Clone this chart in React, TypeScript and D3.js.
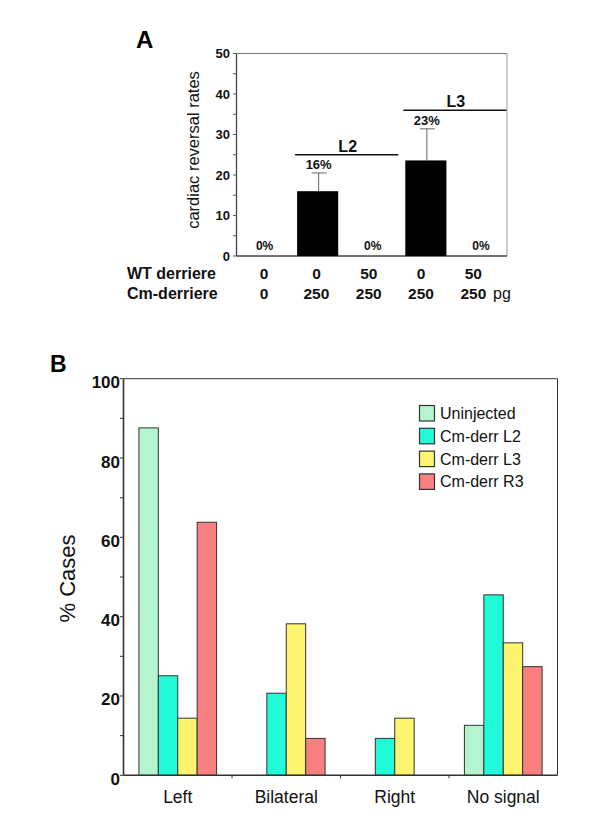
import React from "react";
import * as d3 from "d3";

// Panel A data
const aColumns = ["c1", "c2", "c3", "c4", "c5"];
const aValues = [0, 16, 0, 23.6, 0];
const aErrors = [0, 20.5, 0, 31.4, 0];
const aLabels = ["0%", "16%", "0%", "23%", "0%"];
const aWT = ["0", "0", "50", "0", "50"];
const aCm = ["0", "250", "250", "250", "250"];
const aTicks = [0, 10, 20, 30, 40, 50];
const aGroups = [
  { name: "L2", from: 1, to: 2, level: 25 },
  { name: "L3", from: 3, to: 4, level: 36 },
];

// Panel B data
const bCategories = ["Left", "Bilateral", "Right", "No signal"];
const bSeries = ["Uninjected", "Cm-derr L2", "Cm-derr L3", "Cm-derr R3"];
const bColors = ["#b4f5d0", "#22fbd9", "#fdf46f", "#f88080"];
const uninjected = [87.6, 0, 0, 12.6];
const cmL2 = [25.1, 20.7, 9.3, 45.5];
const cmL3 = [14.4, 38.2, 14.4, 33.4];
const cmR3 = [63.8, 9.3, 0, 27.4];
const bValues = [uninjected, cmL2, cmL3, cmR3];
const bTicks = [0, 20, 40, 60, 80, 100];

const FONT = "'Liberation Sans', Arial, Helvetica, sans-serif";

export default function App() {
  // ---- Panel A scales
  const aX = d3.scaleBand<string>().domain(aColumns).range([236.5, 507]).paddingInner(0.24).paddingOuter(0.12);
  const aY = d3.scaleLinear().domain([0, 50]).range([256, 53.5]);
  const aTable = d3.scaleBand<string>().domain(aColumns).range([238, 499.5]);
  const aMinor = d3.range(0, 51, 5);
  const aCenter = (i: number) => (aX(aColumns[i]) as number) + aX.bandwidth() / 2;
  const aTab = (i: number) => (aTable(aColumns[i]) as number) + aTable.bandwidth() / 2;

  // ---- Panel B scales
  const bLeft = 123.5;
  const bRight = 557.5;
  const bX = d3.scaleBand<string>().domain(bCategories).range([bLeft, bRight]).paddingInner(0.284).paddingOuter(0.142);
  const bX1 = d3.scaleBand<string>().domain(bSeries).range([0, bX.bandwidth()]);
  const bY = d3.scaleLinear().domain([0, 100]).range([775.3, 378.7]);
  const bMinor = d3.range(0, 101, 10);
  const bOuter = d3.scaleBand<string>().domain(bCategories).range([bLeft, bRight]);

  return (
    <svg width={597} height={837} style={{ position: "absolute", left: 0, top: 0, background: "#fff" }} fontFamily={FONT}>
      <rect x={0} y={0} width={597} height={837} fill="#fff" />
      {/* ================= Panel A ================= */}
      <text x={136} y={48} fontSize={24} fontWeight="bold" fill="#000">A</text>
      <line x1={236.5} x2={507} y1={aY(50)} y2={aY(50)} stroke="#777" strokeWidth={1} />
      <line x1={507} x2={507} y1={aY(50)} y2={aY(0)} stroke="#999" strokeWidth={1} />
      <line x1={236.5} x2={236.5} y1={aY(50)} y2={aY(0)} stroke="#444" strokeWidth={1.3} />
      <line x1={236.5} x2={507} y1={aY(0)} y2={aY(0)} stroke="#444" strokeWidth={1.3} />
      {aMinor.map((t) => (
        <line key={"am" + t} x1={233} x2={236.5} y1={aY(t)} y2={aY(t)} stroke="#555" strokeWidth={1} />
      ))}
      {aTicks.map((t) => (
        <text key={"at" + t} x={230} y={aY(t) + 4.5} fontSize={13} fontWeight="bold" textAnchor="end" fill="#111">{t}</text>
      ))}
      <text transform={`translate(199,150) rotate(-90)`} fontSize={16.5} textAnchor="middle" fill="#111">cardiac reversal rates</text>
      {aValues.map((v, i) => (
        v > 0 ? (
          <g key={"ab" + i}>
            <line x1={aCenter(i) + 1} x2={aCenter(i) + 1} y1={aY(v)} y2={aY(aErrors[i])} stroke="#666" strokeWidth={1} />
            <line x1={aCenter(i) - 6} x2={aCenter(i) + 9} y1={aY(aErrors[i])} y2={aY(aErrors[i])} stroke="#666" strokeWidth={1} />
            <rect x={aX(aColumns[i])} y={aY(v)} width={aX.bandwidth()} height={aY(0) - aY(v)} fill="#000" />
          </g>
        ) : null
      ))}
      {aLabels.map((l, i) => {
        const top = aValues[i] > 0;
        const y = top ? aY(aErrors[i]) - 3.5 : 250;
        return (
          <text key={"al" + i} x={aCenter(i) + 1} y={y} fontSize={top ? 13 : 12} fontWeight="bold" textAnchor="middle" fill="#111">{l}</text>
        );
      })}
      {aGroups.map((g) => {
        const x1 = (aX(aColumns[g.from]) as number) - 2;
        const x2 = (aX(aColumns[g.to]) as number) + aX.bandwidth() + 6;
        return (
          <g key={g.name}>
            <line x1={x1} x2={x2} y1={aY(g.level)} y2={aY(g.level)} stroke="#111" strokeWidth={1.5} />
            <text x={(x1 + x2) / 2 + 1} y={aY(g.level) - 3} fontSize={16} fontWeight="bold" textAnchor="middle" fill="#111">{g.name}</text>
          </g>
        );
      })}
      <text x={127} y={278.5} fontSize={16} fontWeight="bold" fill="#111">WT derriere</text>
      <text x={127} y={298.5} fontSize={16} fontWeight="bold" fill="#111">Cm-derriere</text>
      {aWT.map((w, i) => (
        <text key={"wt" + i} x={aTab(i)} y={278.5} fontSize={15.5} fontWeight="bold" textAnchor="middle" fill="#111">{w}</text>
      ))}
      {aCm.map((w, i) => (
        <text key={"cm" + i} x={aTab(i)} y={298.5} fontSize={15.5} fontWeight="bold" textAnchor="middle" fill="#111">{w}</text>
      ))}
      <text x={493} y={298.5} fontSize={16} fill="#111">pg</text>

      {/* ================= Panel B ================= */}
      <text x={50} y={372} fontSize={23} fontWeight="bold" fill="#000">B</text>
      <line x1={bLeft} x2={bRight} y1={bY(100)} y2={bY(100)} stroke="#333" strokeWidth={1} />
      <line x1={bRight} x2={bRight} y1={bY(100)} y2={bY(0)} stroke="#333" strokeWidth={1} />
      {bValues.map((series, si) => (
        <g key={"bs" + si}>
          {series.map((v, ci) => (
            v > 0 ? (
              <rect key={"bb" + si + ci}
                x={(bX(bCategories[ci]) as number) + (bX1(bSeries[si]) as number)}
                y={bY(v)} width={bX1.bandwidth()} height={bY(0) - bY(v)}
                fill={bColors[si]} stroke="#333" strokeWidth={1} />
            ) : null
          ))}
        </g>
      ))}
      <line x1={bLeft} x2={bLeft} y1={bY(100)} y2={bY(0)} stroke="#333" strokeWidth={1.6} />
      <line x1={bLeft} x2={bRight} y1={bY(0)} y2={bY(0)} stroke="#333" strokeWidth={1.6} />
      {bMinor.map((t) => (
        <line key={"bm" + t} x1={bLeft - 3.5} x2={bLeft} y1={bY(t)} y2={bY(t)} stroke="#333" strokeWidth={1} />
      ))}
      {bCategories.slice(1).map((c) => (
        <line key={"bt" + c} x1={bOuter(c) as number} x2={bOuter(c) as number} y1={bY(0)} y2={bY(0) + 3} stroke="#333" strokeWidth={1} />
      ))}
      {bTicks.map((t) => (
        <text key={"btl" + t} x={120} y={bY(t) + 9.5} fontSize={17} fontWeight="bold" textAnchor="end" fill="#111">{t}</text>
      ))}
      <text transform={`translate(74.5,578.5) rotate(-90)`} fontSize={22} textAnchor="middle" fill="#111">% Cases</text>
      {bCategories.map((c) => (
        <text key={"bc" + c} x={(bX(c) as number) + bX.bandwidth() / 2} y={802.5} fontSize={17.5} textAnchor="middle" fill="#111">{c}</text>
      ))}
      {bSeries.map((s, i) => (
        <g key={"lg" + s} transform={`translate(419.5,${405.5 + i * 22.8})`}>
          <rect x={0} y={0} width={15} height={15.5} fill={bColors[i]} stroke="#333" strokeWidth={1.2} />
          <text x={20.5} y={13.5} fontSize={16} fill="#111">{s}</text>
        </g>
      ))}
    </svg>
  );
}
